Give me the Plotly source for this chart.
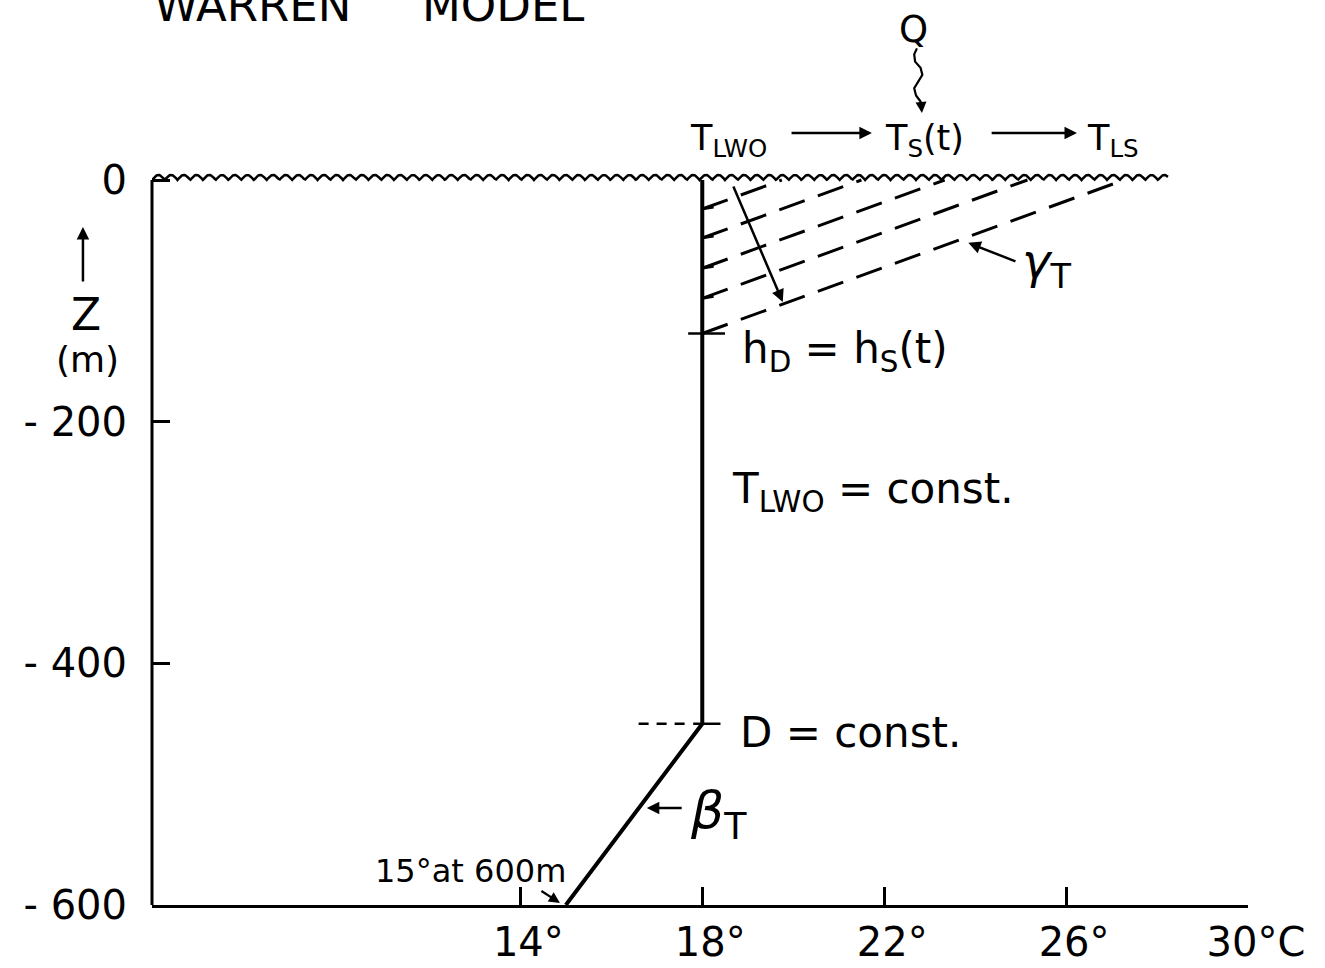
import numpy as np
import plotly.graph_objects as go

# ---- temperature profile (deg C vs depth m) ----
profile_temp = [18.0, 18.0, 15.0]
profile_depth = [0.0, -450.0, -600.0]

# mixed-layer / thermocline depths (m)
h_d = -127.0
d_const = -450.0

# dashed isotherm guide lines: start depth on the 18 deg line, surface temperature
iso_start_depth = [-24.0, -48.0, -73.0, -98.0, -127.0]
iso_surface_temp = [19.75, 21.5, 23.33, 25.15, 27.27]

# axis ticks
x_tickvals = [14, 18, 22, 26, 30]
x_ticktext = ["14°", "18°", "22°", "26°", "30°C"]
y_tickvals = [0, -200, -400, -600]
y_ticktext = ["0", "- 200", "- 400", "- 600"]

X_RANGE = [5.9, 30.0]
Z_RANGE = [-600.0, 149.0]

FONT = "DejaVu Sans"
INK = "black"

fig = go.Figure()

def line(xs, ys, width=3, dash=None):
    fig.add_trace(go.Scatter(
        x=xs, y=ys, mode="lines",
        line=dict(color=INK, width=width, dash=dash),
        hoverinfo="skip", showlegend=False))

# water surface symbol (scalloped line)
xs = np.linspace(5.9, 28.24, 1400)
ys = 4.2 * np.abs(np.sin(np.pi * (xs - 5.9) / 0.28))
line(xs, ys, width=2.5)

# temperature profile
line(profile_temp, profile_depth, width=4)

# dashed isotherm guides
for d0, ts in zip(iso_start_depth, iso_surface_temp):
    line([18.0, ts], [d0, 0.0], width=3, dash="27px,14px")

# small ticks where the guides leave the profile
for d0 in iso_start_depth[:-1]:
    line([18.0, 18.25], [d0, d0 + 1.5], width=2.5)

# h_D marker
line([17.69, 18.5], [h_d, h_d], width=2.5)

# D marker: dashed to the left, solid across the profile
line([16.6, 17.75], [d_const, d_const], width=2.5, dash="10px,8px")
line([17.8, 18.4], [d_const, d_const], width=2.5)

# squiggly arrow from Q
qx = [22.72, 22.66, 22.68, 22.8, 22.84, 22.74, 22.66, 22.7, 22.8, 22.82]
qz = [109, 104, 98, 93, 87, 81, 76, 70, 65, 60]
line(qx, qz, width=2.2)

annotations = []

def text(x, y, s, size, xanchor="center", yanchor="middle", xref="x", yref="y"):
    annotations.append(dict(
        x=x, y=y, xref=xref, yref=yref, text=s, showarrow=False,
        xanchor=xanchor, yanchor=yanchor,
        font=dict(family=FONT, size=size, color=INK)))

def arrow(x_head, y_head, x_tail, y_tail, width=2.5, head=2, size=1.0):
    annotations.append(dict(
        x=x_head, y=y_head, ax=x_tail, ay=y_tail,
        xref="x", yref="y", axref="x", ayref="y",
        text="", showarrow=True, arrowhead=head, arrowsize=size,
        arrowwidth=width, arrowcolor=INK, standoff=0))

# title
text(0.0, 0.962, "WARREN", 45, xanchor="left", yanchor="bottom", xref="paper", yref="paper")
text(0.2445, 0.962, "MODEL", 45, xanchor="left", yanchor="bottom", xref="paper", yref="paper")

# heat flux and surface temperature chain
text(22.65, 125, "Q", 37)
arrow(22.83, 55.5, 22.82, 60, width=2.2)
text(17.69, 33, "T<sub>LWO</sub>", 35, xanchor="left")
arrow(21.73, 38.9, 19.93, 38.9)
text(21.97, 33, "T<sub>S</sub>(t)", 35, xanchor="left")
arrow(26.24, 38.9, 24.33, 38.9)
text(26.41, 33, "T<sub>LS</sub>", 35, xanchor="left")

# mixed-layer deepening arrow
arrow(19.77, -101, 18.67, -4.1)

# gamma_T
arrow(23.85, -52, 24.92, -67.8)
text(24.98, -70, "<i>γ</i><sub>T</sub>", 48, xanchor="left")

# labels along the profile
text(18.83, -142, "h<sub>D</sub> = h<sub>S</sub>(t)", 42, xanchor="left")
text(18.6, -258, "T<sub>LWO</sub> = const.", 42, xanchor="left")
text(18.79, -457, "D = const.", 42, xanchor="left")

# beta_T
arrow(16.78, -519.7, 17.58, -519.7)
text(17.69, -525, "<i>β</i><sub>T</sub>", 52, xanchor="left")

# bottom value
text(12.9, -572.0, "15°at 600m", 32)
arrow(14.87, -598.3, 14.43, -587.6, width=2.2)

# y-axis label with upward arrow
annotations.append(dict(
    x=-0.063, y=0.7492, xref="paper", yref="paper", ax=0, ay=56,
    text="", showarrow=True, arrowhead=2, arrowsize=1, arrowwidth=2.5,
    arrowcolor=INK, standoff=0))
text(-0.0602, 0.653, "Z", 44, xref="paper", yref="paper")
text(-0.0593, 0.6033, "(m)", 36, xref="paper", yref="paper")

fig.update_layout(
    width=1325, height=968,
    margin=dict(l=152, r=77, t=0, b=63, pad=0),
    paper_bgcolor="white", plot_bgcolor="white",
    annotations=annotations,
    shapes=[dict(type="line", xref="paper", yref="y", x0=0, x1=0, y0=-600, y1=0,
                 line=dict(color=INK, width=3))],
    xaxis=dict(range=X_RANGE, showgrid=False, zeroline=False, automargin=False,
               showline=True, linecolor=INK, linewidth=3,
               ticks="inside", ticklen=18, tickwidth=3, tickcolor=INK,
               tickvals=x_tickvals, ticktext=x_ticktext,
               tickfont=dict(family=FONT, size=40, color=INK),
               ticklabelstandoff=0, ticklabelshift=8),
    yaxis=dict(range=Z_RANGE, showgrid=False, zeroline=False, automargin=False,
               showline=False,
               ticks="inside", ticklen=18, tickwidth=3, tickcolor=INK,
               tickvals=y_tickvals, ticktext=y_ticktext,
               tickfont=dict(family=FONT, size=40, color=INK),
               ticklabelstandoff=24),
)

fig.write_html("out.html")
